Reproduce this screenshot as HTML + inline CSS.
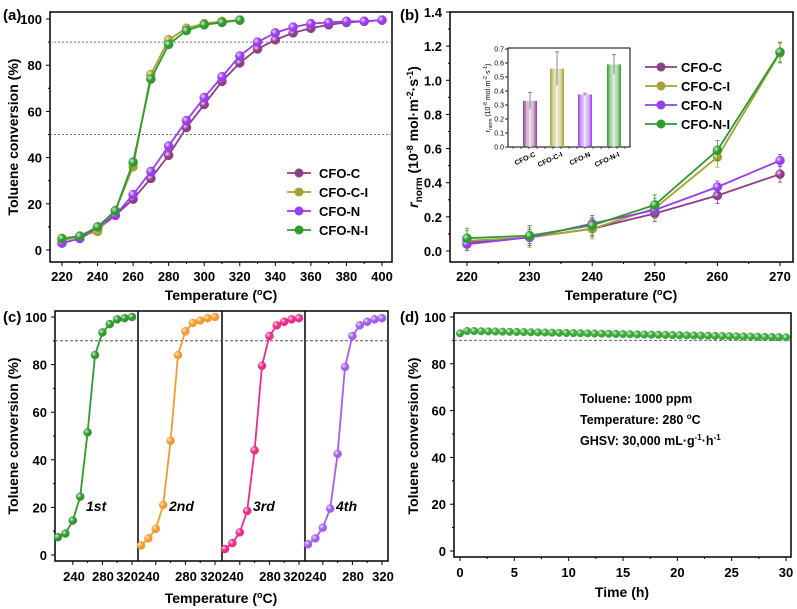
<!DOCTYPE html>
<html><head><meta charset="utf-8">
<style>
html,body{margin:0;padding:0;background:#fff;}
svg{display:block;font-family:"Liberation Sans",Arial,sans-serif;font-weight:bold;}
</style></head>
<body>
<svg id="s" width="797" height="609" viewBox="0 0 797 609" xmlns="http://www.w3.org/2000/svg">
<defs>
<radialGradient id="ball" cx="0.35" cy="0.35" r="0.7">
<stop offset="0" stop-color="#fff" stop-opacity="0.8"/>
<stop offset="0.5" stop-color="#fff" stop-opacity="0"/>
</radialGradient>
</defs>
</svg>
<script>
const S=document.getElementById('s');
let h='';
function line(x1,y1,x2,y2,c,w,d){h+=`<line x1="${x1}" y1="${y1}" x2="${x2}" y2="${y2}" stroke="${c||'#000'}" stroke-width="${w||1}" ${d?'stroke-dasharray="'+d+'"':''}/>`;}
function txt(x,y,t,sz,anchor,extra){h+=`<text x="${x}" y="${y}" font-size="${sz}" text-anchor="${anchor||'middle'}" ${extra||''}>${t}</text>`;}
function rect(x,y,w,hh,sw){h+=`<rect x="${x}" y="${y}" width="${w}" height="${hh}" fill="none" stroke="#000" stroke-width="${sw||1.5}"/>`;}
function series(pts,c,r,err){
  if(err)pts.forEach(p=>{line(p[0],p[1]-err,p[0],p[1]+err,c,0.8);line(p[0]-2,p[1]-err,p[0]+2,p[1]-err,c,0.8);line(p[0]-2,p[1]+err,p[0]+2,p[1]+err,c,0.8);});
  h+=`<polyline points="${pts.map(p=>p.join(',')).join(' ')}" fill="none" stroke="${c}" stroke-width="1.8"/>`;
  pts.forEach(p=>{h+=`<circle cx="${p[0]}" cy="${p[1]}" r="${r}" fill="${c}" stroke="${c}" stroke-width="0.5"/><circle cx="${p[0]}" cy="${p[1]}" r="${r}" fill="url(#ball)"/>`;});
}
// ---------- (a) ----------
{const X=t=>62+(t-220)*(320/180),Y=v=>250-v*2.31;
 rect(50,12,342,250);
 line(50,Y(90),392,Y(90),'#777',1,'2,2');line(50,Y(50),392,Y(50),'#777',1,'2,2');
 for(let v=0;v<=100;v+=20){line(46,Y(v),50,Y(v));txt(42,Y(v)+5,v,13,'end');}
 for(let v=10;v<100;v+=20)line(48,Y(v),50,Y(v));
 for(let t=220;t<=400;t+=20){line(X(t),262,X(t),266);txt(X(t),281,t,13);}
 for(let t=230;t<400;t+=20)line(X(t),262,X(t),264);
 txt(221,300,'Temperature (<tspan font-size="9" dy="-5">o</tspan><tspan dy="5">C)</tspan>',14);
 txt(18,137,'Toluene conversion (%)',14,'middle','transform="rotate(-90 18 137)"');
 txt(3,20,'(a)',15,'start');
 const T1=[],T2=[];for(let t=220;t<=400;t+=10)T1.push(t);for(let t=220;t<=320;t+=10)T2.push(t);
 const C=[3,5,9,15,22,31,41,53,63,73,81,87,91,94,96,97.5,98.5,99,99.5];
 const N=[3,5,10,15,24,34,45,56,66,75,84,90,94,96.5,98,98.5,99,99,99.5];
 const CI=[4,6,8,17,36,76,91,96,98,99,99.5];
 const NI=[5,6,10,17,38,74,89,95,97.5,98.5,99.5];
 series(T1.map((t,i)=>[X(t),Y(C[i])]),'#8e3c8e',4.5,4);
 series(T2.map((t,i)=>[X(t),Y(CI[i])]),'#a3a232',4.5,4);
 series(T1.map((t,i)=>[X(t),Y(N[i])]),'#9a3cf0',4.5,4);
 series(T2.map((t,i)=>[X(t),Y(NI[i])]),'#2f9a2f',4.5,4);
 const L=[['CFO-C','#8e3c8e'],['CFO-C-I','#a3a232'],['CFO-N','#9a3cf0'],['CFO-N-I','#2f9a2f']];
 L.forEach((l,i)=>{const y=173+i*19;line(287,y,311,y,l[1],1.8);h+=`<circle cx="299" cy="${y}" r="4.5" fill="${l[1]}"/>`;txt(319,y+5,l[0],13,'start');});
}
// ---------- (b) ----------
{const X=t=>467+(t-220)*(313/50),Y=v=>251-v*(239/1.4);
 rect(450,12,343,250);
 for(let i=0;i<=7;i++){const v=i*0.2;line(446,Y(v),450,Y(v));txt(442,Y(v)+5,v.toFixed(1),13,'end');}
 for(let i=0;i<7;i++)line(448,Y(i*0.2+0.1),450,Y(i*0.2+0.1));
 for(let t=220;t<=270;t+=10){line(X(t),262,X(t),266);txt(X(t),281,t,13);}
 for(let t=225;t<270;t+=10)line(X(t),262,X(t),264);
 txt(621,300,'Temperature (<tspan font-size="9" dy="-5">o</tspan><tspan dy="5">C)</tspan>',14);
 h+=`<text transform="rotate(-90 418 137)" x="418" y="137" font-size="14" text-anchor="middle"><tspan font-style="italic">r</tspan><tspan font-size="10" dy="4">norm</tspan><tspan dy="-4"> (10</tspan><tspan font-size="9" dy="-5">-8</tspan><tspan dy="5"> mol·m</tspan><tspan font-size="9" dy="-5">-2</tspan><tspan dy="5">·s</tspan><tspan font-size="9" dy="-5">-1</tspan><tspan dy="5">)</tspan></text>`;
 txt(400,20,'(b)',15,'start');
 const T=[220,230,240,250,260,270];
 const C=[.05,.08,.13,.22,.325,.45],CI=[.06,.08,.13,.25,.55,1.16],N=[.04,.08,.16,.24,.375,.53],NI=[.075,.09,.15,.27,.59,1.165];
 series(T.map((t,i)=>[X(t),Y(C[i])]),'#8e3c8e',4.5,8);
 series(T.map((t,i)=>[X(t),Y(CI[i])]),'#a3a232',4.5,10);
 series(T.map((t,i)=>[X(t),Y(N[i])]),'#9a3cf0',4.5,6);
 series(T.map((t,i)=>[X(t),Y(NI[i])]),'#2f9a2f',4.5,10);
 const L=[['CFO-C','#8e3c8e'],['CFO-C-I','#a3a232'],['CFO-N','#9a3cf0'],['CFO-N-I','#2f9a2f']];
 L.forEach((l,i)=>{const y=67+i*19;line(645,y,677,y,l[1],1.8);h+=`<circle cx="661" cy="${y}" r="4.5" fill="${l[1]}"/>`;txt(681,y+5,l[0],13,'start');});
 // inset
 const IY=v=>147-v*(98/0.7);
 rect(508,48,122,99,1);
 for(let i=0;i<=7;i++){const v=i*0.1;line(505,IY(v),508,IY(v),'#000',0.8);txt(504,IY(v)+2.5,v.toFixed(1),7,'end','font-weight="normal"');}
 const B=[[530,.33,'#8e3c8e',.06,'CFO-C'],[557,.56,'#a3a232',.12,'CFO-C-I'],[585,.375,'#9a3cf0',.008,'CFO-N'],[614,.59,'#2f9a2f',.07,'CFO-N-I']];
 B.forEach((b,i)=>{h+=`<linearGradient id="g${i}"><stop offset="0" stop-color="${b[2]}"/><stop offset="0.3" stop-color="${b[2]}" stop-opacity="0.3"/><stop offset="0.5" stop-color="#fff"/><stop offset="0.7" stop-color="${b[2]}" stop-opacity="0.3"/><stop offset="1" stop-color="${b[2]}"/></linearGradient>`;
  h+=`<rect x="${b[0]-7}" y="${IY(b[1])}" width="14" height="${147-IY(b[1])}" fill="url(#g${i})"/>`;
  line(b[0],IY(b[1]-b[3]),b[0],IY(b[1]+b[3]),'#888',1);line(b[0]-2,IY(b[1]+b[3]),b[0]+2,IY(b[1]+b[3]),'#888',1);
  txt(b[0]+6,156,b[4],7,'end',`transform="rotate(-25 ${b[0]+6} 156)"`);
 });
 for(let x=513;x<630;x+=8)line(x,147,x,149,'#000',0.6);
 h+=`<text transform="rotate(-90 490 98)" x="490" y="98" font-size="7" text-anchor="middle" font-weight="normal"><tspan font-style="italic">r</tspan><tspan font-size="5" dy="2">norm</tspan><tspan dy="-2"> (10</tspan><tspan font-size="5" dy="-3">-8</tspan><tspan dy="3"> mol·m</tspan><tspan font-size="5" dy="-3">-2</tspan><tspan dy="3">·s</tspan><tspan font-size="5" dy="-3">-1</tspan><tspan dy="3">)</tspan></text>`;
}
// ---------- (c) ----------
{const Y=v=>555-v*2.38;
 rect(55,311,333,250);
 [138,222,305].forEach(x=>line(x,311,x,561,'#000',1.5));
 line(55,Y(90),388,Y(90),'#555',1,'3,2');
 for(let v=0;v<=100;v+=20){line(51,Y(v),55,Y(v));txt(47,Y(v)+5,v,13,'end');}
 for(let v=10;v<100;v+=20)line(53,Y(v),55,Y(v));
 const Ls=[55,138,222,305];
 const D=[[7.5,9,14.5,24.5,51.5,84,93.5,97,99,99.5,100],[4,7,11,21,48,84,94,97.5,98.5,99.5,100],[2.5,5,9.5,18.5,44,79.5,92,96.5,98,99,99.5],[4.5,7,11.5,19.5,42.5,79,92,96.5,98,99,99.5]];
 const cols=['#2f9a2f','#f59a2f','#ee2a8a','#a25ef0'],lab=['1st','2nd','3rd','4th'];
 Ls.forEach((L,k)=>{const X=t=>L+3+(t-220)*0.74;
  [240,280,320].forEach(t=>{line(X(t),561,X(t),565);});
  [260,300].forEach(t=>line(X(t),561,X(t),563));
  series(D[k].map((v,i)=>[X(220+i*10),Y(v)]),cols[k],4,0);
  txt(L+31,511,lab[k],14,'start','font-style="italic"');
 });
 const tl=[[74,'240'],[103,'280'],[138,'320240'],[186,'280'],[222,'320240'],[270,'280'],[305,'320240'],[353,'280'],[383,'320']];
 tl.forEach(t=>txt(t[0],581,t[1],13));
 txt(221,603,'Temperature (<tspan font-size="9" dy="-5">o</tspan><tspan dy="5">C)</tspan>',14);
 txt(18,436,'Toluene conversion (%)',14,'middle','transform="rotate(-90 18 436)"');
 txt(3,322,'(c)',15,'start');
}
// ---------- (d) ----------
{const X=t=>460+t*(326/30),Y=v=>551-v*2.34;
 rect(454,313,337,244);
 line(454,Y(90),791,Y(90),'#666',1,'3,2');
 for(let v=0;v<=100;v+=20){line(450,Y(v),454,Y(v));txt(446,Y(v)+5,v,13,'end');}
 for(let v=10;v<100;v+=20)line(452,Y(v),454,Y(v));
 for(let t=0;t<=30;t+=5){line(X(t),557,X(t),561);txt(X(t),577,t,13);}
 for(let t=2.5;t<30;t+=5)line(X(t),557,X(t),559);
 txt(622,597,'Time (h)',14);
 txt(418,436,'Toluene conversion (%)',14,'middle','transform="rotate(-90 418 436)"');
 txt(400,322,'(d)',15,'start');
 const pts=[];for(let i=0;i<=46;i++){const t=i*30/46;let v=i==0?93:94-(t-1)*2.7/29;if(i>0&&t<1)v=94;pts.push([X(t),Y(v)]);}
 series(pts,'#3aa83a',3.8,0);
 txt(580,403,'Toluene: 1000 ppm',12.5,'start');
 txt(580,424,'Temperature: 280 <tspan font-size="8" dy="-5">o</tspan><tspan dy="5">C</tspan>',12.5,'start');
 txt(580,445,'GHSV: 30,000 mL·g<tspan font-size="8" dy="-5">-1</tspan><tspan dy="5">·h</tspan><tspan font-size="8" dy="-5">-1</tspan>',12.5,'start');
}
S.innerHTML+=h;
</script>
</body></html>
